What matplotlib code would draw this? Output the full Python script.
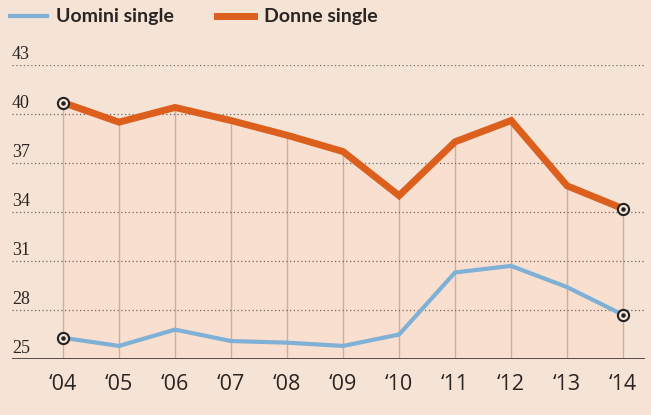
import matplotlib
matplotlib.use("Agg")
import matplotlib.pyplot as plt

years = [2004, 2005, 2006, 2007, 2008, 2009, 2010, 2011, 2012, 2013, 2014]
year_labels = ["‘04", "‘05", "‘06", "‘07", "‘08", "‘09", "‘10", "‘11", "‘12", "‘13", "‘14"]
donne = [40.7, 39.5, 40.4, 39.6, 38.7, 37.7, 35.0, 38.3, 39.6, 35.6, 34.2]
uomini = [26.3, 25.8, 26.8, 26.1, 26.0, 25.8, 26.5, 30.3, 30.7, 29.4, 27.7]
yticks = [25, 28, 31, 34, 37, 40, 43]

bg = "#f5e4d5"
fill_col = "#f9dfcf"
orange = "#dc5f1e"
blue = "#7fb0d6"

fig = plt.figure(figsize=(6.51, 4.15), dpi=100, facecolor=bg)
W, H = 651, 415
ax = fig.add_axes([12 / W, 1 - 359 / H, (645 - 12) / W, (359 - 65) / H])
ax.set_facecolor(bg)
ax.set_xlim(2003.09, 2014.39)
ax.set_ylim(25, 43)

ax.fill_between(years, donne, 25, color=fill_col, lw=0, zorder=1)
for x, y in zip(years, donne):
    ax.plot([x, x], [25, y], color="#c8b1a1", lw=1, zorder=2)
for y in yticks[1:]:
    ax.axhline(y, color="#6e6661", lw=0.9, ls=(0, (1, 2)), zorder=3)
ax.axhline(25, color="#4a403c", lw=1.3, zorder=3)

l1, = ax.plot(years, uomini, color=blue, lw=3, solid_joinstyle="miter", zorder=4)
l2, = ax.plot(years, donne, color=orange, lw=5, solid_joinstyle="miter", zorder=4)

ends_x = [years[0], years[-1], years[0], years[-1]]
ends_y = [donne[0], donne[-1], uomini[0], uomini[-1]]
ax.scatter(ends_x, ends_y, s=65, facecolor=bg, edgecolor="#222222", lw=1.5, zorder=5)
ax.scatter(ends_x, ends_y, s=5, color="#222222", zorder=6)

for s in ax.spines.values():
    s.set_visible(False)
ax.set_yticks([])
ax.set_xticks(years)
ax.set_xticklabels(year_labels, fontsize=15.5, family=["Open Sans", "DejaVu Sans"],
                   color="#2a2422")
ax.tick_params(axis="x", length=0, pad=11)

for y in yticks:
    ax.text(2003.09, y + 0.12, str(y), ha="left", va="bottom", fontsize=13,
            family=["Liberation Serif", "DejaVu Serif"], color="#2a2422")

fig.legend([l1, l2], ["Uomini single", "Donne single"], loc="upper left",
           bbox_to_anchor=(-0.012, 1.022), ncol=2, frameon=False,
           prop={"family": "Lato", "weight": "bold", "size": 14},
           handlelength=1.9, handletextpad=0.5, columnspacing=2.2,
           labelcolor="#2a2422")

fig.savefig("out.png", dpi=100, facecolor=bg)
